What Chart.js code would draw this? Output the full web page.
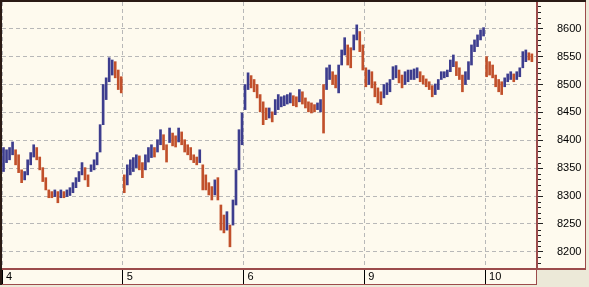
<!DOCTYPE html>
<html>
<head>
<meta charset="utf-8">
<script src="https://cdn.jsdelivr.net/npm/chart.js@4"></script>
<style>
  html, body { margin: 0; padding: 0; background: #ece9d8; }
  #c { display: block; }
</style>
</head>
<body>
<canvas id="c" width="589" height="287"></canvas>
<script>
// day labels on the time axis
const days = ['4', '5', '6', '9', '10'];
const slotsPerDay = 40;

// intraday bars: high / low per slot
const highs = [
  // 4
  8387, 8383, 8387, 8397, 8383, 8374, 8347, 8344, 8365, 8378,
  8392, 8387, 8370, 8351, 8333, 8311, 8308, 8311, 8308, 8311,
  8308, 8311, 8315, 8324, 8333, 8344, 8360, 8351, 8338, 8356,
  8365, 8378, 8428, 8500, 8512, 8548, 8544, 8541, 8526, 8514,
  // 5
  8338, 8356, 8365, 8369, 8374, 8372, 8360, 8374, 8387, 8392,
  8387, 8401, 8419, 8410, 8392, 8422, 8413, 8408, 8422, 8415,
  8401, 8392, 8387, 8374, 8370, 8383, 8356, 8338, 8324, 8317,
  8329, 8333, 8284, 8266, 8272, 8248, 8293, 8347, 8419, 8449,
  // 6
  8500, 8521, 8516, 8509, 8500, 8482, 8469, 8458, 8458, 8451,
  8473, 8482, 8478, 8480, 8482, 8485, 8480, 8478, 8491, 8487,
  8476, 8469, 8467, 8464, 8467, 8473, 8500, 8530, 8535, 8523,
  8517, 8535, 8562, 8584, 8571, 8566, 8589, 8607, 8595, 8571,
  // 9
  8530, 8526, 8523, 8505, 8494, 8487, 8500, 8503, 8509, 8532,
  8534, 8526, 8517, 8523, 8526, 8526, 8528, 8530, 8523, 8516,
  8510, 8505, 8498, 8501, 8509, 8523, 8523, 8526, 8544, 8553,
  8541, 8530, 8517, 8523, 8541, 8571, 8580, 8589, 8598, 8602,
  // 10
  8550, 8541, 8535, 8517, 8509, 8505, 8512, 8519, 8523, 8519,
  8523, 8530, 8559, 8562, 8557, 8555
];
const lows = [
  // 4
  8344, 8360, 8365, 8374, 8356, 8342, 8324, 8329, 8338, 8356,
  8370, 8365, 8347, 8326, 8311, 8297, 8297, 8299, 8288, 8297,
  8297, 8299, 8301, 8306, 8315, 8326, 8338, 8329, 8317, 8344,
  8347, 8356, 8379, 8428, 8473, 8505, 8517, 8512, 8491, 8485,
  // 5
  8306, 8320, 8338, 8344, 8351, 8347, 8333, 8347, 8361, 8369,
  8370, 8379, 8392, 8383, 8361, 8396, 8390, 8388, 8397, 8392,
  8379, 8374, 8365, 8360, 8356, 8360, 8311, 8311, 8302, 8293,
  8302, 8293, 8239, 8234, 8239, 8209, 8248, 8284, 8347, 8392,
  // 6
  8455, 8491, 8494, 8487, 8476, 8451, 8428, 8437, 8440, 8433,
  8446, 8455, 8460, 8462, 8465, 8467, 8462, 8460, 8469, 8465,
  8458, 8451, 8449, 8451, 8455, 8451, 8413, 8491, 8509, 8500,
  8494, 8485, 8535, 8553, 8535, 8530, 8562, 8580, 8559, 8526,
  // 9
  8496, 8500, 8494, 8478, 8467, 8464, 8476, 8482, 8487, 8509,
  8512, 8503, 8494, 8500, 8505, 8509, 8509, 8512, 8505, 8501,
  8496, 8491, 8478, 8482, 8491, 8509, 8512, 8514, 8523, 8532,
  8516, 8509, 8487, 8500, 8509, 8535, 8559, 8568, 8580, 8587,
  // 10
  8514, 8517, 8512, 8496, 8487, 8482, 8496, 8505, 8509, 8505,
  8509, 8514, 8530, 8541, 8544, 8541
];

const yTicks = { min: 8171, max: 8648, step: 50, minorStep: 10 };

const cream = '#fefaee';
const maroon = '#9c4b4b';
const dark = '#2a1a14';
const upColor = '#3d3d8e';
const downColor = '#c1502b';

const mids = highs.map((h, i) => (h + lows[i]) / 2);
const barColors = mids.map((m, i) => (i > 0 && m < mids[i - 1]) ? downColor : upColor);

const framePlugin = {
  id: 'frame',
  beforeDraw(chart) {
    const { ctx, chartArea: a, scales } = chart;
    const xs = scales.x, ys = scales.y;
    ctx.save();
    ctx.fillStyle = '#ece9d8';
    ctx.fillRect(0, 0, chart.width, chart.height);
    ctx.fillStyle = cream;
    ctx.fillRect(0, 0, ys.right, a.bottom);
    ctx.fillRect(0, a.bottom, a.right, xs.bottom - a.bottom);
    ctx.restore();
  },
  afterDraw(chart) {
    const { ctx, chartArea: a, scales } = chart;
    const xs = scales.x, ys = scales.y;
    ctx.save();
    // minor ticks on the price axis
    ctx.strokeStyle = '#222';
    ctx.lineWidth = 1;
    for (let v = Math.ceil(ys.min / yTicks.minorStep) * yTicks.minorStep; v <= ys.max; v += yTicks.minorStep) {
      if (v % yTicks.step === 0) continue;
      const y = Math.round(ys.getPixelForValue(v)) + 0.5;
      ctx.beginPath();
      ctx.moveTo(a.right, y);
      ctx.lineTo(a.right + 4, y);
      ctx.stroke();
    }
    // maroon borders
    ctx.fillStyle = maroon;
    ctx.fillRect(a.right - 1, 0, 2, a.bottom + 1);
    ctx.fillRect(0, a.bottom, ys.right, 2);
    ctx.fillRect(ys.right - 1, 0, 1, a.bottom + 1);
    ctx.fillRect(0, xs.bottom - 1, a.right, 1);
    ctx.fillRect(a.right - 1, a.bottom, 1, xs.bottom - a.bottom);
    // dark outer edge
    ctx.fillStyle = dark;
    ctx.fillRect(0, 0, 2, xs.bottom);
    ctx.fillRect(0, 0, ys.right, 2);
    ctx.restore();
  }
};

new Chart(document.getElementById('c'), {
  type: 'bar',
  data: {
    datasets: [{
      data: highs.map((h, i) => ({ x: i + 0.5, y: [lows[i], h] })),
      backgroundColor: barColors,
      borderWidth: 0,
      barThickness: 2,
      grouped: false
    }]
  },
  options: {
    responsive: false,
    animation: false,
    layout: { padding: { left: 2, top: 2, right: 3, bottom: 2 } },
    plugins: { legend: { display: false }, tooltip: { enabled: false } },
    scales: {
      x: {
        type: 'linear',
        min: 0,
        max: 177.2,
        offset: false,
        afterFit: s => { s.height = 17; s.paddingLeft = 0; s.paddingRight = 0; },
        ticks: {
          stepSize: slotsPerDay,
          includeBounds: false,
          autoSkip: false,
          maxRotation: 0,
          align: 'start',
          labelOffset: 4,
          padding: -14,
          color: '#000',
          font: { family: 'Liberation Sans', size: 11 },
          callback: v => days[v / slotsPerDay] ?? ''
        },
        grid: {
          offset: false,
          color: '#b8b8b8',
          lineWidth: 1,
          tickLength: 16,
          tickColor: '#000',
          tickWidth: 1,
          tickBorderDash: []
        },
        border: { display: false, dash: [4, 3] }
      },
      y: {
        position: 'right',
        min: yTicks.min,
        max: yTicks.max,
        afterFit: s => { s.width = 49; s.paddingTop = 0; s.paddingBottom = 0; },
        ticks: {
          stepSize: yTicks.step,
          includeBounds: false,
          padding: 14,
          color: '#000',
          font: { family: 'Liberation Sans', size: 11 },
          callback: v => String(v)
        },
        grid: {
          color: '#b8b8b8',
          lineWidth: 1,
          tickLength: 6,
          tickColor: '#222',
          tickWidth: 1,
          tickBorderDash: []
        },
        border: { display: false, dash: [4, 3] }
      }
    }
  },
  plugins: [framePlugin]
});
</script>
</body>
</html>
